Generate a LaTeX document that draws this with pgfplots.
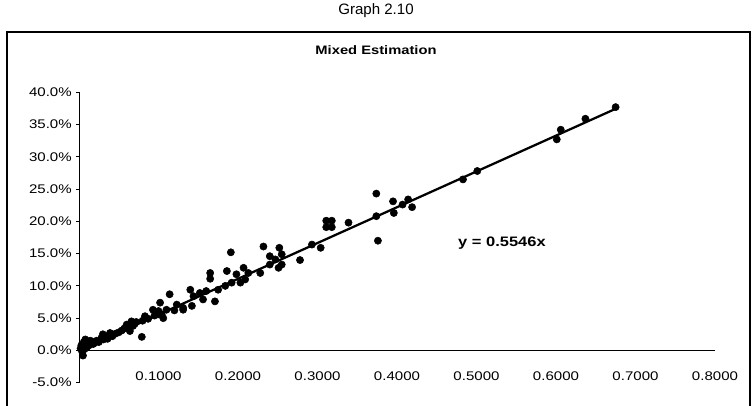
\documentclass[border=0pt]{standalone}
\usepackage{pgfplots}
\pgfplotsset{compat=1.18}
\usepackage{fontspec}
\setmainfont{Liberation Sans}
\newfontfamily\wide{Liberation Sans}[FakeStretch=1.2]

\pgfplotstableread{
x y
0.002 0.3
0.003 0.8
0.004 -0.2
0.005 -0.8
0.005 0.5
0.006 1.3
0.007 0.2
0.008 1.7
0.009 0.9
0.010 0.5
0.011 1.2
0.013 0.8
0.014 1.5
0.016 1.4
0.018 1.0
0.020 1.2
0.022 1.5
0.025 1.3
0.028 1.9
0.030 2.5
0.031 1.7
0.034 2.1
0.036 1.8
0.039 2.7
0.042 2.2
0.046 2.6
0.050 2.8
0.054 3.1
0.057 3.4
0.060 4.0
0.061 3.5
0.063 3.7
0.064 3.0
0.065 4.2
0.066 4.5
0.068 3.8
0.070 4.1
0.072 4.4
0.079 2.1
0.080 4.6
0.083 5.3
0.087 4.9
0.093 6.3
0.095 5.4
0.100 5.6
0.100 6.1
0.102 7.4
0.104 5.6
0.106 5.0
0.110 6.3
0.114 8.7
0.120 6.2
0.123 7.1
0.131 6.3
0.131 6.6
0.140 9.4
0.142 6.9
0.144 8.4
0.152 8.9
0.156 7.9
0.160 9.2
0.165 12.0
0.165 11.1
0.171 7.6
0.175 9.4
0.184 10.0
0.186 12.3
0.191 15.2
0.192 10.5
0.198 11.8
0.203 10.5
0.207 12.8
0.209 11.0
0.213 12.0
0.228 12.0
0.232 16.1
0.240 13.3
0.240 14.6
0.247 14.1
0.251 12.8
0.252 15.9
0.255 14.9
0.255 13.3
0.278 14.0
0.293 16.4
0.304 15.9
0.311 20.1
0.318 20.1
0.311 19.1
0.318 19.1
0.339 19.8
0.374 24.3
0.374 20.8
0.376 17.0
0.395 23.1
0.396 21.3
0.407 22.6
0.414 23.4
0.419 22.2
0.483 26.5
0.501 27.8
0.601 32.7
0.606 34.2
0.637 35.9
0.675 37.7
}\pts

\begin{document}
\begin{tikzpicture}
\draw[black, line width=0.9pt] (5.25pt,-24pt) rectangle (562.5pt,-330pt);
\node[font=\fontsize{11.3}{13}\selectfont] at (282pt,-8pt) {Graph 2.10};
\node[font=\wide\bfseries\fontsize{9.2}{11}\selectfont] at (282pt,-37.5pt) {Mixed Estimation};
\begin{axis}[
  at={(59.25pt,-287pt)}, anchor=south west,
  scale only axis, width=477pt, height=217.8pt,
  xmin=0, xmax=0.8, ymin=-5, ymax=40,
  axis y line*=left, axis x line*=bottom,
  x axis line style={draw=none},
  y axis line style={black, line width=0.7pt},
  xtick={0.1,0.2,0.3,0.4,0.5,0.6,0.7,0.8},
  ytick={-5,0,5,10,15,20,25,30,35,40},
  xtick style={draw=none},
  ytick style={black, line width=0.7pt},
  tick align=outside, major tick length=2.25pt,
  /pgf/number format/assume math mode=true,
  tick label style={font=\wide\fontsize{9.4}{11}\selectfont, black},
  xticklabel={\pgfmathprintnumber[fixed,fixed zerofill,precision=4]{\tick}},
  yticklabel={\pgfmathprintnumber[fixed,fixed zerofill,precision=1]{\tick}\%},
  xticklabel style={anchor=center, yshift=7pt},
  yticklabel style={anchor=east, inner sep=0pt, xshift=-3pt},
  extra y ticks={0}, extra y tick labels={},
  extra y tick style={grid=major, major grid style={black, line width=0.7pt}, tick style={draw=none}},
  clip=false,
]
\addplot[only marks, mark=*, mark size=2.7pt, black] table[x=x,y=y] {\pts};
\addplot[black, line width=1.7pt] coordinates {(0,0) (0.675,37.44)};
\node[font=\wide\bfseries\fontsize{10.3}{12}\selectfont] at (axis cs:0.532,16.6) {y = 0.5546x};
\end{axis}
\pgfresetboundingbox
\useasboundingbox (0,0) rectangle (564pt,-303.75pt);
\end{tikzpicture}
\end{document}
